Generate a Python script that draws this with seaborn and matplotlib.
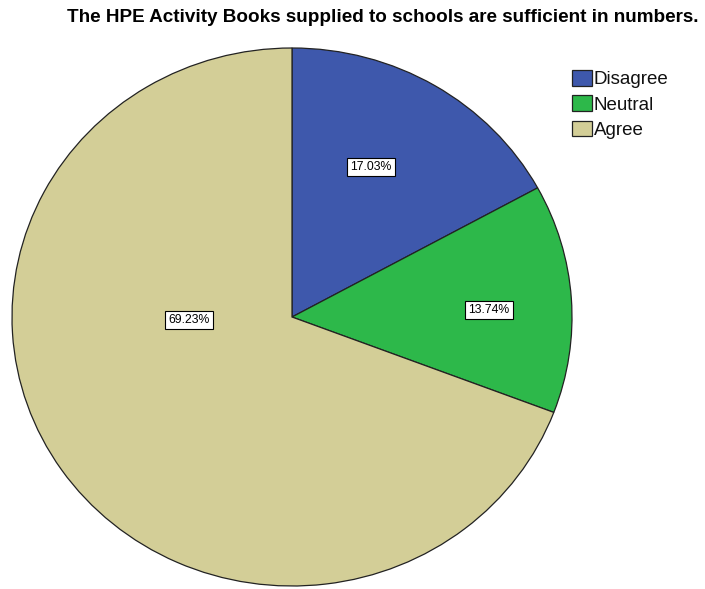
import matplotlib
matplotlib.use("Agg")
import matplotlib.pyplot as plt
import seaborn as sns
from matplotlib.patches import Patch

categories = ["Disagree", "Neutral", "Agree"]
values = [17.03, 13.74, 69.23]
labels = ["17.03%", "13.74%", "69.23%"]
colors = ["#3E58AC", "#2DB84A", "#D3CE97"]
title = "The HPE Activity Books supplied to schools are sufficient in numbers."

sns.set_theme(style="white")
plt.rcParams["font.family"] = ["Liberation Sans", "DejaVu Sans"]
plt.rcParams["text.color"] = "#111111"

fig = plt.figure(figsize=(7.05, 5.89), dpi=100)
ax = fig.add_axes([12 / 705, 3 / 589, 560 / 705, 538 / 589])

wedges, texts = ax.pie(values, colors=colors, startangle=90, counterclock=False,
                       wedgeprops=dict(edgecolor="#222222", linewidth=0.9),
                       radius=1.0)
ax.set_aspect("auto")
ax.set_xlim(-1, 1)
ax.set_ylim(-1, 1)
ax.axis("off")

# label positions (text anchors in data coordinates)
label_pos = [(0.282, 0.558), (0.704, 0.026), (-0.368, -0.011)]
for lab, (x, y) in zip(labels, label_pos):
    ax.text(x, y, lab, ha="center", va="center", fontsize=8.8, color="black",
            bbox=dict(boxstyle="square,pad=0.25", facecolor="white", edgecolor="black", linewidth=0.8))

fig.text(383 / 705, 1 - 17 / 589, title, ha="center", va="center",
         fontsize=13.6, fontweight="bold", color="black")

handles = [Patch(facecolor=c, edgecolor="#222222", linewidth=0.9) for c in colors]
fig.legend(handles, categories, loc="upper left", bbox_to_anchor=(572 / 705, 1 - 70 / 589),
           frameon=False, fontsize=13.5, handlelength=1.05, handleheight=0.9,
           handletextpad=0.1, labelspacing=0.38, borderpad=0, borderaxespad=0)

fig.savefig("out.png", dpi=100)
